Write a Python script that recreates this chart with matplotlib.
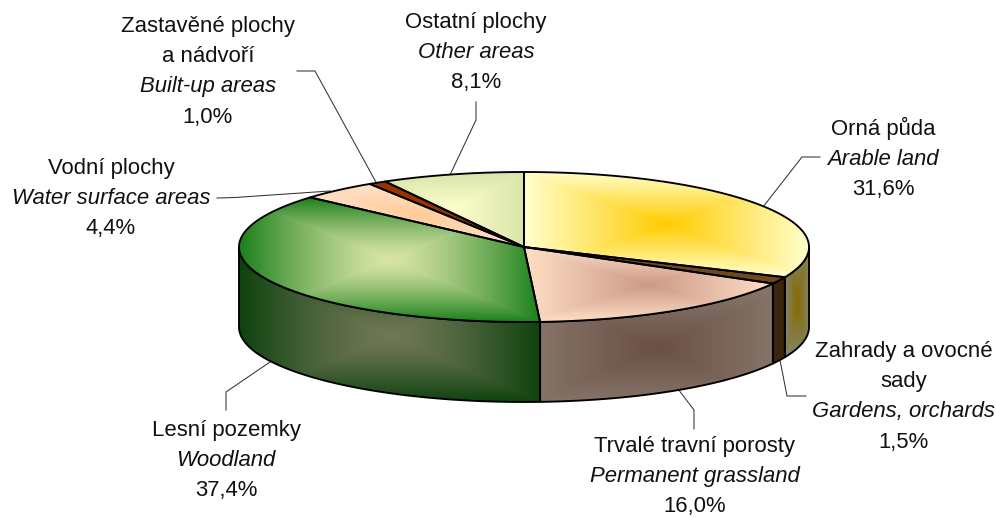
import numpy as np
import matplotlib
matplotlib.use("Agg")
from matplotlib import pyplot as plt
from matplotlib.patches import Polygon

plt.rcParams['font.family'] = ['Liberation Sans', 'DejaVu Sans']

# podily ploch (%), od 12 hodin po smeru hodin
podily = [31.6, 1.5, 16.0, 37.4, 4.4, 1.0, 8.1]
# barvy stredu a okraje gradientu
stred = ['#FFCC00', '#70481C', '#CC9988', '#D8E4A6', '#FFCC99', '#993300', '#FFFFCC']
okraj = ['#FFFFCC', '#70481C', '#FFDFC6', '#1A7F1A', '#FFE2CC', '#993300', '#D8E4AA']
prubeh = [1.0, 1.0, 1.0, 1.35, 1.0, 1.0, 1.0]

nazvy_cz = [['Orná půda'], ['Zahrady a ovocné', 'sady'], ['Trvalé travní porosty'], ['Lesní pozemky'],
            ['Vodní plochy'], ['Zastavěné plochy', 'a nádvoří'], ['Ostatní plochy']]
nazvy_en = ['Arable land', 'Gardens, orchards', 'Permanent grassland', 'Woodland',
            'Water surface areas', 'Built-up areas', 'Other areas']
# stred popisku a uctari radek, ve kterem zacina
popisky_x = [883, 904, 695, 226, 111, 208, 476]
popisky_y = [135, 357, 452, 436, 174, 32, 28]

# odkazove cary
cary = [[(820, 157), (802, 157), (763, 207)],
        [(806, 396), (787, 396), (780, 360)],
        [(694, 429), (694, 410), (678, 389)],
        [(226, 410), (226, 392), (270, 362)],
        [(217, 198), (235, 197.5), (330, 191)],
        [(297, 71), (315, 71), (377, 184)],
        [(476, 102), (476, 120), (450, 175)]]

cx, cy, rx, ry, hloubka = 524, 247, 285, 75, 80
stin = 0.52
lw = 1.35
pismo = 15.9


def bod(t):
    return cx + rx * np.sin(t), cy - ry * np.cos(t)


def barva(h):
    return np.array(matplotlib.colors.to_rgb(h))


def gradient(poly, c_stred, c_okraj, k, ax, z, stred_y=None):
    # obdelnikovy gradient od stredu ohranicujiciho obdelniku
    x0, y0 = poly.min(axis=0)
    x1, y1 = poly.max(axis=0)
    if stred_y is None:
        stred_y = (y0 + y1) / 2
    w = max(int(x1 - x0) * 2, 2)
    h = max(int(y1 - y0) * 2, 2)
    xx = np.linspace(x0, x1, w)
    yy = np.linspace(y0, y1, h)
    u = np.abs(xx - (x0 + x1) / 2) / ((x1 - x0) / 2)
    v = np.abs(yy - stred_y) / (y1 - stred_y)
    t = np.clip(np.maximum(u[None, :], v[:, None]), 0, 1)[..., None] ** k
    img = c_stred * (1 - t) + c_okraj * t
    im = ax.imshow(img, extent=(x0, x1, y1, y0), aspect='auto', zorder=z, interpolation='bilinear')
    p = Polygon(poly, closed=True, facecolor='none', edgecolor='black', lw=lw, zorder=z + 0.5, joinstyle='round')
    ax.add_patch(p)
    im.set_clip_path(p)


fig = plt.figure(figsize=(9.96, 5.18), dpi=100)
ax = fig.add_axes([0, 0, 1, 1])

hrany = np.cumsum([0] + podily) / 100 * 2 * np.pi

# bocni steny, jen predni polovina
for i in range(len(podily)):
    a = max(hrany[i], np.pi / 2)
    b = min(hrany[i + 1], 3 * np.pi / 2)
    if b <= a:
        continue
    t = np.linspace(a, b, 120)
    x, y = bod(t)
    poly = np.column_stack([np.r_[x, x[::-1]], np.r_[y, y[::-1] + hloubka]])
    gradient(poly, barva(stred[i]) * stin, barva(okraj[i]) * stin, prubeh[i], ax, 2, poly[:, 1].mean())

# horni plocha
for i in range(len(podily)):
    t = np.linspace(hrany[i], hrany[i + 1], 200)
    x, y = bod(t)
    poly = np.column_stack([np.r_[cx, x], np.r_[cy, y]])
    gradient(poly, barva(stred[i]), barva(okraj[i]), prubeh[i], ax, 3)

for c in cary:
    ax.plot([p[0] for p in c], [p[1] for p in c], color='#333333', lw=0.75, zorder=1)

radek = 30.2
for i in range(len(podily)):
    y = popisky_y[i]
    for r in nazvy_cz[i]:
        ax.text(popisky_x[i], y, r, ha='center', va='baseline', fontsize=pismo, color='#111111')
        y += radek
    ax.text(popisky_x[i], y, nazvy_en[i], ha='center', va='baseline', fontsize=pismo, style='italic', color='#111111')
    y += radek
    ax.text(popisky_x[i], y, f'{podily[i]:.1f}%'.replace('.', ','), ha='center', va='baseline',
            fontsize=pismo, color='#111111')

ax.set_xlim(0, 996)
ax.set_ylim(518, 0)
ax.axis('off')
fig.savefig('out.png', dpi=100, facecolor='white')
